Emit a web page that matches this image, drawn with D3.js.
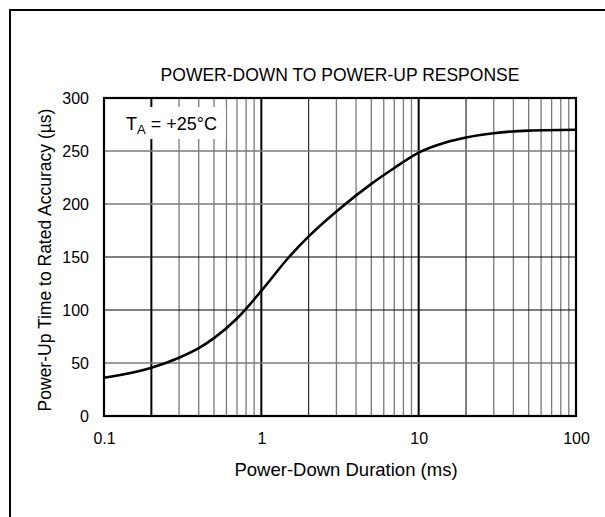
<!DOCTYPE html>
<html>
<head>
<meta charset="utf-8">
<script src="https://cdn.jsdelivr.net/npm/d3@7"></script>
<style>
  body { margin: 0; background: #fff; }
  text { font-family: "Liberation Sans", Arial, sans-serif; fill: #000; }
</style>
</head>
<body>
<div id="chart"></div>
<script>
// curve
var duration = [0.1, 0.2, 0.3, 0.4, 0.5, 0.7, 1, 1.5, 2, 3, 5, 7, 10, 15, 20, 30, 50, 100];
var upTime   = [36, 45.5, 55, 64, 73.5, 92, 118, 150, 169.5, 193, 219, 234, 248.5, 258.3, 262.8, 266.8, 269.2, 270];

var xTicks = [0.1, 1, 10, 100];
var yTicks = [0, 50, 100, 150, 200, 250, 300];
var blackY = [100, 150];          // darker horizontal grid lines
var boldX = [0.2, 1, 10];         // heavy vertical grid lines
var blackX = [2, 20];             // thin black vertical lines

var W = 605, H = 517;
var plotL = 104, plotR = 576, plotT = 98, plotB = 416;

var svg = d3.select("#chart").append("svg")
  .attr("width", W).attr("height", H);

// outer frame (runs off the right and bottom)
svg.append("rect")
  .attr("x", 10).attr("y", 10)
  .attr("width", 640).attr("height", 560)
  .attr("fill", "none").attr("stroke", "#000").attr("stroke-width", 2);

var x = d3.scaleLog().domain([0.1, 100]).range([plotL, plotR]);
var y = d3.scaleLinear().domain([0, 300]).range([plotB, plotT]);

// minor vertical grid
var minor = [];
[0.1, 1, 10].forEach(function (d) {
  for (var k = 2; k <= 9; k++) minor.push(+(d * k).toPrecision(3));
});

svg.selectAll("line.vgrid")
  .data(minor.concat([1, 10]))
  .enter().append("line")
  .attr("class", "vgrid")
  .attr("x1", function (d) { return x(d); })
  .attr("x2", function (d) { return x(d); })
  .attr("y1", plotT).attr("y2", plotB)
  .attr("stroke", function (d) {
    return (boldX.indexOf(d) >= 0 || blackX.indexOf(d) >= 0) ? "#000" : "#7a7a7a";
  })
  .attr("stroke-width", function (d) {
    return boldX.indexOf(d) >= 0 ? 2 : (blackX.indexOf(d) >= 0 ? 1 : 1.3);
  });

svg.selectAll("line.hgrid")
  .data(yTicks.slice(1, -1))
  .enter().append("line")
  .attr("class", "hgrid")
  .attr("x1", plotL).attr("x2", plotR)
  .attr("y1", function (d) { return y(d); })
  .attr("y2", function (d) { return y(d); })
  .attr("stroke", function (d) { return blackY.indexOf(d) >= 0 ? "#000" : "#7a7a7a"; })
  .attr("stroke-width", function (d) { return blackY.indexOf(d) >= 0 ? 1 : 1.3; });

// label box with white background
var label = svg.append("g");
label.append("rect")
  .attr("x", 108).attr("y", 107).attr("width", 118).attr("height", 32)
  .attr("fill", "#fff");
var lt = label.append("text")
  .attr("x", 126).attr("y", 129.5)
  .style("font-size", "18px");
lt.append("tspan").text("T");
lt.append("tspan").attr("dy", 4).style("font-size", "13px").text("A");
lt.append("tspan").attr("dy", -4).text(" = +25°C");

// curve
var line = d3.line()
  .x(function (d, i) { return x(duration[i]); })
  .y(function (d) { return y(d); })
  .curve(d3.curveMonotoneX);

svg.append("path")
  .datum(upTime)
  .attr("d", line)
  .attr("fill", "none")
  .attr("stroke", "#000")
  .attr("stroke-width", 2.6);

// plot border
svg.append("rect")
  .attr("x", plotL).attr("y", plotT)
  .attr("width", plotR - plotL).attr("height", plotB - plotT)
  .attr("fill", "none").attr("stroke", "#000").attr("stroke-width", 2.2);

// axes: labels only
var xAxis = svg.append("g")
  .attr("transform", "translate(0," + plotB + ")")
  .call(d3.axisBottom(x).tickValues(xTicks).tickSize(0).tickPadding(17)
    .tickFormat(function (d) { return d3.format("~g")(d); }));
xAxis.select(".domain").remove();
xAxis.selectAll("text")
  .style("font-family", "\"Liberation Sans\", Arial, sans-serif")
  .style("font-size", "16px");

var yAxis = svg.append("g")
  .attr("transform", "translate(" + plotL + ",0)")
  .call(d3.axisLeft(y).tickValues(yTicks).tickSize(0).tickPadding(15));
yAxis.select(".domain").remove();
yAxis.selectAll("text")
  .style("font-family", "\"Liberation Sans\", Arial, sans-serif")
  .style("font-size", "16px");

// titles
svg.append("text")
  .attr("x", (plotL + plotR) / 2).attr("y", 81)
  .attr("text-anchor", "middle")
  .style("font-size", "17.5px")
  .text("POWER-DOWN TO POWER-UP RESPONSE");

svg.append("text")
  .attr("x", 346).attr("y", 476)
  .attr("text-anchor", "middle")
  .style("font-size", "18.5px")
  .text("Power-Down Duration (ms)");

svg.append("text")
  .attr("transform", "translate(51,260) rotate(-90)")
  .attr("text-anchor", "middle")
  .style("font-size", "17.5px")
  .text("Power-Up Time to Rated Accuracy (µs)");
</script>
</body>
</html>
